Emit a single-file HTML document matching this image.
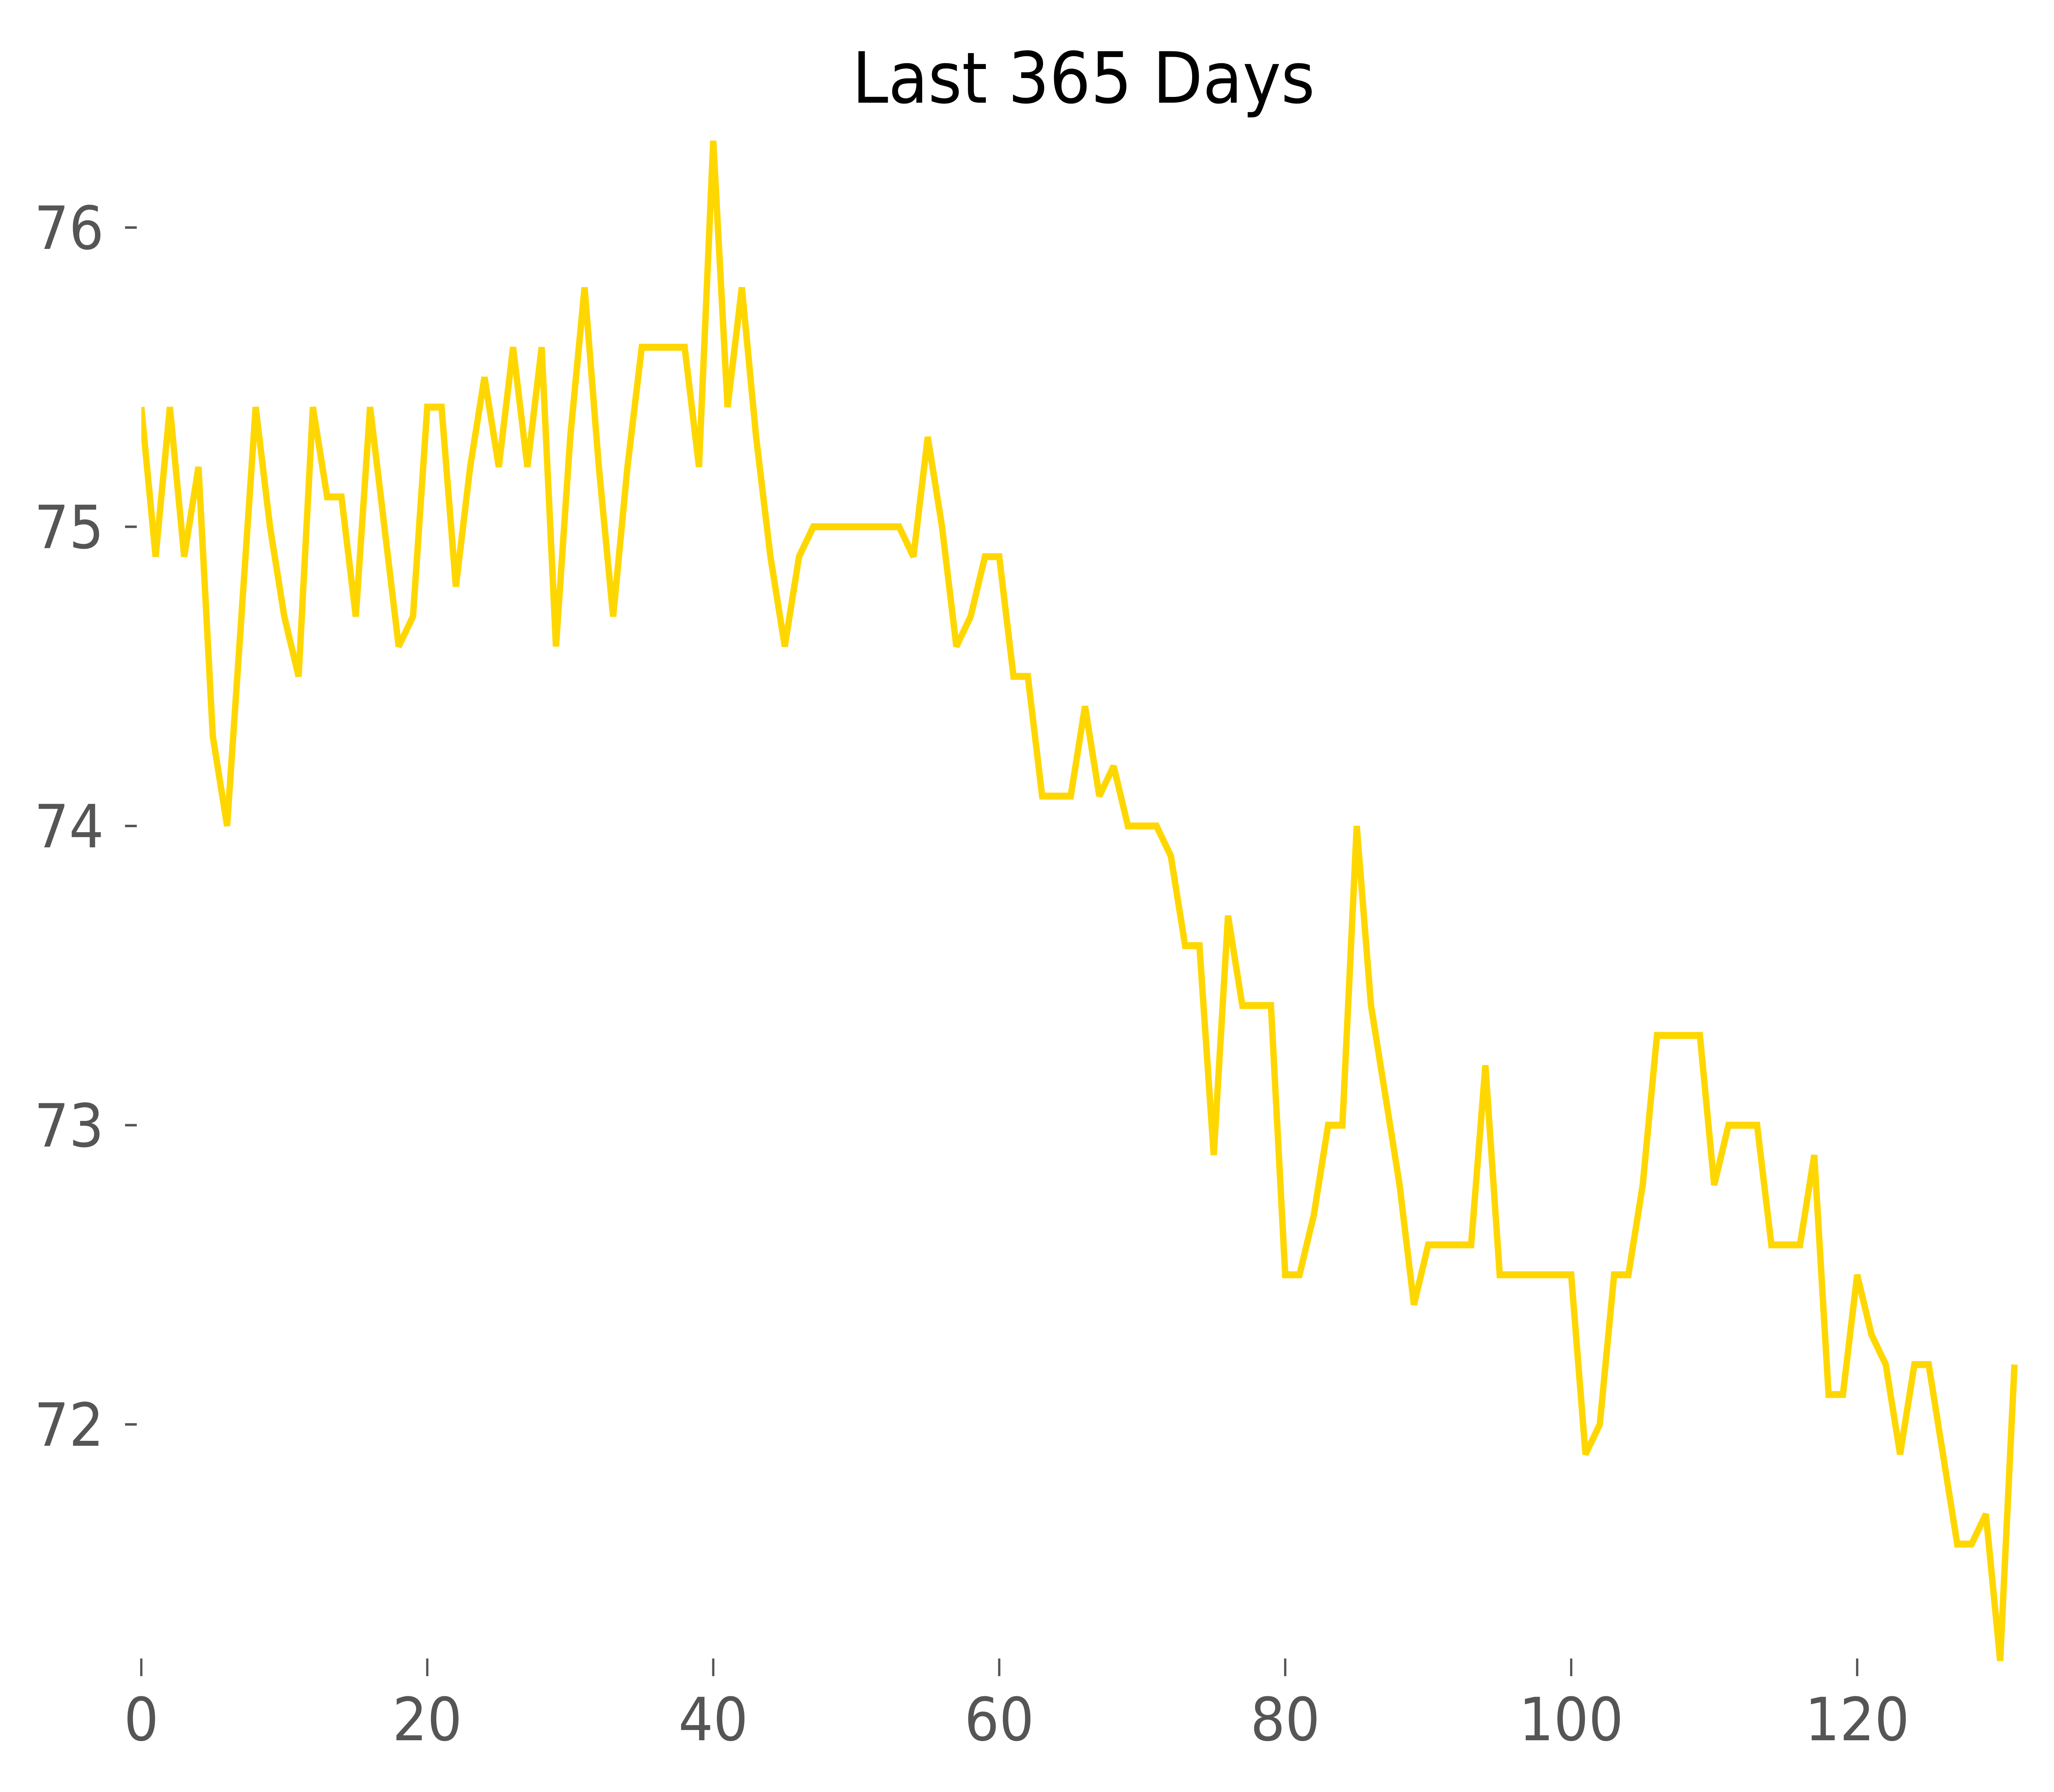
<!DOCTYPE html>
<html><head><meta charset="utf-8"><style>
html,body{margin:0;padding:0;background:#fff;width:100%;height:100%;overflow:hidden;}
svg{display:block;position:absolute;left:0;top:0;width:100vw;height:100vh;font-family:"DejaVu Sans","Liberation Sans",sans-serif;}
</style></head><body>
<svg id="chart" viewBox="0 0 5437 4363" preserveAspectRatio="none" xmlns="http://www.w3.org/2000/svg">
<defs><clipPath id="plotclip"><rect x="374" y="340" width="4978" height="3712"/></clipPath></defs>
<text x="2868" y="250" font-size="172" text-anchor="middle" fill="#000">Last 365 Days</text>
<g id="xaxis"></g>
<g id="yaxis"></g>
<g clip-path="url(#plotclip)"><path id="series" fill="none" stroke="#FFD700" stroke-width="17" stroke-linejoin="miter" stroke-miterlimit="2"/></g>
</svg>
<script>
const values = [75.4,74.9,75.4,74.9,75.2,74.3,74.0,74.7,75.4,75.0,74.7,74.5,75.4,75.1,75.1,74.7,75.4,75.0,74.6,74.7,
75.4,75.4,74.8,75.2,75.5,75.2,75.6,75.2,75.6,74.6,75.3,75.8,75.2,74.7,75.2,75.6,75.6,75.6,75.6,75.2,
76.29,75.4,75.8,75.3,74.9,74.6,74.9,75.0,75.0,75.0,75.0,75.0,75.0,75.0,74.9,75.3,75.0,74.6,74.7,74.9,
74.9,74.5,74.5,74.1,74.1,74.1,74.4,74.1,74.2,74.0,74.0,74.0,73.9,73.6,73.6,72.9,73.7,73.4,73.4,73.4,
72.5,72.5,72.7,73.0,73.0,74.0,73.4,73.1,72.8,72.4,72.6,72.6,72.6,72.6,73.2,72.5,72.5,72.5,72.5,72.5,
72.5,71.9,72.0,72.5,72.5,72.8,73.3,73.3,73.3,73.3,72.8,73.0,73.0,73.0,72.6,72.6,72.6,72.9,72.1,72.1,
72.5,72.3,72.2,71.9,72.2,72.2,71.9,71.6,71.6,71.7,71.21,72.2];
const xTicks = [0,20,40,60,80,100,120];
const xTickLabels = ["0","20","40","60","80","100","120"];
const yTicks = [72,73,74,75,76];
const yTickLabels = ["72","73","74","75","76"];

const X0 = 374, XS = 37.85;
const Y76 = 554, YS = 728.5;
function xScale(v){return X0 + v*XS;}
function yScale(v){return Y76 + (76 - v)*YS;}
const NS = "http://www.w3.org/2000/svg";
const xa = document.getElementById('xaxis');
xTicks.forEach((t,i)=>{
  const l=document.createElementNS(NS,'line');
  
  
  l.setAttribute('x1',xScale(t));l.setAttribute('x2',xScale(t));
  l.setAttribute('y1',4038);l.setAttribute('y2',4081);
  l.setAttribute('stroke','#555');l.setAttribute('stroke-width','6');
  xa.appendChild(l);
  const tx=document.createElementNS(NS,'text');
  
  
  tx.setAttribute('x',xScale(t));tx.setAttribute('y',4237);
  tx.setAttribute('font-size','145');tx.setAttribute('text-anchor','middle');tx.setAttribute('fill','#555');
  tx.textContent=xTickLabels[i];
  xa.appendChild(tx);
});
const ya = document.getElementById('yaxis');
yTicks.forEach((t,i)=>{
  const l=document.createElementNS(NS,'line');
  
  
  l.setAttribute('x1',331);l.setAttribute('x2',362);
  l.setAttribute('y1',yScale(t));l.setAttribute('y2',yScale(t));
  l.setAttribute('stroke','#555');l.setAttribute('stroke-width','6');
  ya.appendChild(l);
  const tx=document.createElementNS(NS,'text');
  
  
  tx.setAttribute('x',275);tx.setAttribute('y',yScale(t)+52);
  tx.setAttribute('font-size','145');tx.setAttribute('text-anchor','end');tx.setAttribute('fill','#555');
  tx.textContent=yTickLabels[i];
  ya.appendChild(tx);
});
let d='';
values.forEach((v,i)=>{d+=(i?'L':'M')+xScale(i).toFixed(1)+' '+yScale(v).toFixed(1);});
document.getElementById('series').setAttribute('d',d);
</script>
</body></html>
